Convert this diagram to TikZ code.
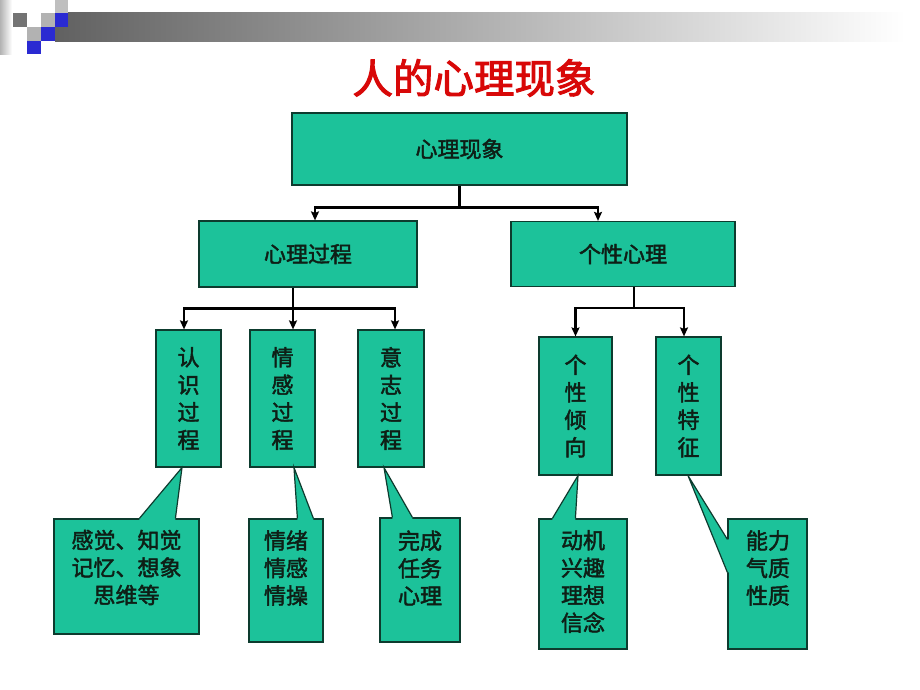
\documentclass[tikz,border=0pt]{standalone}
\usepackage{fontspec}
\newfontfamily\cjkb[FakeBold=2]{Noto Sans CJK SC}
\newfontfamily\cjktitle[FakeBold=2.5]{Noto Sans CJK SC}
\usetikzlibrary{arrows.meta}
\definecolor{boxfill}{HTML}{1CC29A}
\definecolor{boxline}{HTML}{0D3B2E}
\definecolor{txt}{HTML}{0E1F16}
\definecolor{titlered}{HTML}{D80808}
\definecolor{decoblue}{HTML}{2A2AD2}
\newcommand\myboxfont{\cjkb\fontsize{22}{27.5}\selectfont}
\tikzset{
  box/.style={draw=boxline, fill=boxfill, line width=1.2pt, inner sep=0pt,
    align=center, font=\myboxfont, text=txt},
  txtnode/.style={inner sep=0pt, align=center, font=\myboxfont, text=txt},
  conn/.style={line width=2.6pt, draw=black},
  arr/.style={conn, -{Stealth[length=9pt,width=8pt,inset=1.5pt]}},
  ptrfill/.style={fill=boxfill},
  ptrline/.style={draw=boxline, line width=1.2pt, line join=miter},
}
\begin{document}
\begin{tikzpicture}[x=1pt,y=-1pt]
\path[use as bounding box, fill=white] (0,0) rectangle (920,690);
% header decoration
\shade[left color=white!70!black, right color=white] (0,0) rectangle (12,55);
\shade[left color=black!62, right color=white] (55,13) rectangle (905,42);
\fill[black!55] (13,13) rectangle (27,27);
\fill[black!25] (55,0) rectangle (68,13);
\fill[black!30] (41,13) rectangle (55,27);
\fill[decoblue] (55,13) rectangle (68,27);
\fill[black!30] (27,27) rectangle (41,41);
\fill[decoblue] (41,27) rectangle (55,41);
\fill[decoblue] (27,41) rectangle (41,54);
% title
\node[inner sep=0pt, font=\cjktitle\fontsize{40.5}{40.5}\selectfont, text=titlered] (title) at (474,78) {人的心理现象};
% main boxes
\node[box, minimum width=335pt, minimum height=72pt] (top) at (459.5,149) {心理现象};
\node[box, minimum width=218pt, minimum height=66pt] (p1) at (308,254) {心理过程};
\node[box, minimum width=224pt, minimum height=65pt] (p2) at (623,254) {个性心理};
% vertical boxes
\node[box, minimum width=65pt, minimum height=137pt] (v1) at (188.5,398.5) {认\\识\\过\\程};
\node[box, minimum width=65pt, minimum height=137pt] (v2) at (282.5,398.5) {情\\感\\过\\程};
\node[box, minimum width=66pt, minimum height=137pt] (v3) at (391,398.5) {意\\志\\过\\程};
\node[box, minimum width=73pt, minimum height=138pt] (v4) at (575.5,406) {个\\性\\倾\\向};
\node[box, minimum width=65pt, minimum height=138pt] (v5) at (688.5,406) {个\\性\\特\\征};
% connectors
\draw[conn] (top.south) -- ++(0,22) coordinate (j1);
\draw[arr] (j1) -| ([xshift=7pt]p1.north);
\draw[arr] (j1) -| ([xshift=-25pt]p2.north);
\draw[conn] ([xshift=-15pt]p1.south) -- ++(0,21) coordinate (j2);
\draw[arr] (j2) -| ([xshift=-4.5pt]v1.north);
\draw[arr] (j2) -- ([xshift=10.5pt]v2.north);
\draw[arr] (j2) -| ([xshift=4pt]v3.north);
\draw[conn] ([xshift=11pt]p2.south) -- ++(0,21) coordinate (j3);
\draw[arr] (j3) -| (v4.north);
\draw[arr] (j3) -| ([xshift=-4.5pt]v5.north);
% callout boxes
\node[box, minimum width=145pt, minimum height=115pt] (c1) at (126.5,576.5) {};
\node[box, minimum width=74pt, minimum height=123pt] (c2) at (286,580.5) {};
\node[box, minimum width=80pt, minimum height=124pt] (c3) at (420,580) {};
\node[box, minimum width=88pt, minimum height=130pt] (c4) at (583,584) {};
\node[box, minimum width=79pt, minimum height=130pt] (c5) at (767.5,584) {};
% callout pointers
\fill[ptrfill] ([xshift=-6.5pt]v1.south) -- ([xshift=86pt]c1.north west) -- ([xshift=86pt,yshift=-1.5pt]c1.north west) -- ([xshift=122pt,yshift=-1.5pt]c1.north west) -- ([xshift=122pt]c1.north west) -- cycle;
\draw[ptrline] ([xshift=86pt]c1.north west) -- ([xshift=-6.5pt]v1.south) -- ([xshift=122pt]c1.north west);
\fill[ptrfill] ([xshift=11.5pt]v2.south) -- ([xshift=49pt]c2.north west) -- ([xshift=49pt,yshift=-1.5pt]c2.north west) -- ([xshift=65pt,yshift=-1.5pt]c2.north west) -- ([xshift=65pt]c2.north west) -- cycle;
\draw[ptrline] ([xshift=49pt]c2.north west) -- ([xshift=11.5pt]v2.south) -- ([xshift=65pt]c2.north west);
\fill[ptrfill] ([xshift=-7pt]v3.south) -- ([xshift=13pt]c3.north west) -- ([xshift=13pt,yshift=-1.5pt]c3.north west) -- ([xshift=33pt,yshift=-1.5pt]c3.north west) -- ([xshift=33pt]c3.north west) -- cycle;
\draw[ptrline] ([xshift=13pt]c3.north west) -- ([xshift=-7pt]v3.south) -- ([xshift=33pt]c3.north west);
\fill[ptrfill] ([xshift=2.5pt]v4.south) -- ([xshift=14pt]c4.north west) -- ([xshift=14pt,yshift=-1.5pt]c4.north west) -- ([xshift=37pt,yshift=-1.5pt]c4.north west) -- ([xshift=37pt]c4.north west) -- cycle;
\draw[ptrline] ([xshift=14pt]c4.north west) -- ([xshift=2.5pt]v4.south) -- ([xshift=37pt]c4.north west);
\fill[ptrfill] ([xshift=-0.5pt]v5.south) -- ([yshift=-21pt]c5.north west) -- ([xshift=1.5pt,yshift=-21pt]c5.north west) -- ([xshift=1.5pt,yshift=-54pt]c5.north west) -- ([yshift=-54pt]c5.north west) -- cycle;
\draw[ptrline] ([yshift=-21pt]c5.north west) -- ([xshift=-0.5pt]v5.south) -- ([yshift=-54pt]c5.north west);
% callout texts
\node[txtnode] (c1t) at (126.5,567.5) {感觉、知觉\\记忆、想象\\思维等};
\node[txtnode] (c2t) at (286,568) {情绪\\情感\\情操};
\node[txtnode] (c3t) at (420,568) {完成\\任务\\心理};
\node[txtnode] (c4t) at (583,581.5) {动机\\兴趣\\理想\\信念};
\node[txtnode] (c5t) at (768,568) {能力\\气质\\性质};
\end{tikzpicture}
\end{document}
